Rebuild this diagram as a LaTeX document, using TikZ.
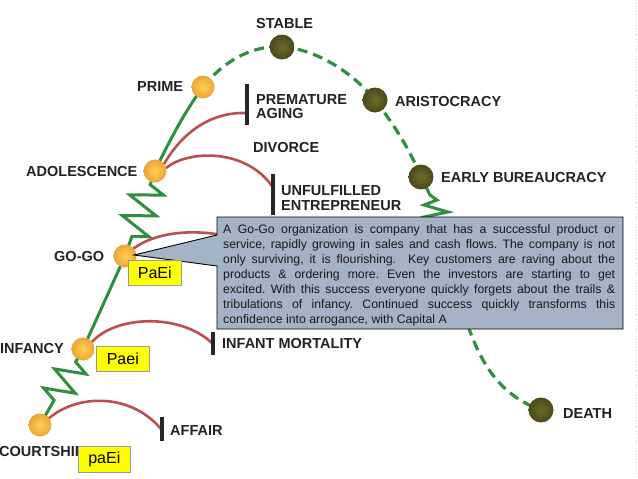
\documentclass[tikz,border=0pt]{standalone}
\usepackage{fontspec}
\setmainfont{Liberation Sans}
\usetikzlibrary{decorations.pathmorphing,calc}
\definecolor{grn}{HTML}{2F8E3F}
\definecolor{rd}{HTML}{B43C3C}
\definecolor{olvin}{HTML}{6C6A2A}
\definecolor{olvout}{HTML}{4B4A1A}
\definecolor{orin}{HTML}{FCD257}
\definecolor{orout}{HTML}{EDA435}
\definecolor{boxfill}{HTML}{A4B3C5}
\definecolor{tagyel}{HTML}{FFFF00}
\definecolor{labcol}{HTML}{222222}
\begin{document}
\begin{tikzpicture}[x=1pt,y=-1pt,
  grnline/.style={draw=grn, line width=3pt},
  grndash/.style={draw=grn, line width=3.2pt, dash pattern=on 10pt off 6pt},
  redline/.style={draw=rd, line width=2.6pt, opacity=0.9},
  endbar/.style={draw=black!85, line width=3.5pt},
  odot/.style={circle, minimum size=23pt, inner sep=0pt, inner color=orin, outer color=orout},
  ddot/.style={circle, minimum size=25pt, inner sep=0pt, inner color=olvin, outer color=olvout},
  lab/.style={font=\bfseries\fontsize{14.5}{15}\selectfont, text=labcol, inner sep=0pt, anchor=west},
  tag/.style={draw=black!40, line width=0.6pt, fill=tagyel, anchor=north west, inner sep=0pt,
              font=\fontsize{16}{17}\selectfont, text=black},
]
\useasboundingbox (0,0) rectangle (638,479);
\fill[white] (0,0) rectangle (638,479);
\draw[black!20, dotted, line width=0.8pt] (636,0) -- (636,479);

% anchor coordinates of the stages
\coordinate (cC) at (40,425);
\coordinate (cI) at (83,349);
\coordinate (cG) at (125,256);
\coordinate (cA) at (155,171);
\coordinate (cP) at (203,87);
\coordinate (cS) at (282,47);
\coordinate (cR) at (375,100);
\coordinate (cE) at (421,177);
\coordinate (cD) at (541,410);

% green life-cycle path
\draw[grnline, line join=miter] (cI) -- ($(cI)!0.17!(cC)$) decorate[decoration={zigzag, segment length=22pt, amplitude=15pt}] {-- ($(cI)!0.72!(cC)$)} -- (cC);
\draw[grnline] (cI) .. controls (97,318) and (112,285) .. (cG);
\draw[grnline, line join=miter] (cA) -- ($(cA)!0.16!(cG)$) decorate[decoration={zigzag, segment length=22pt, amplitude=16pt}] {-- ($(cA)!0.8!(cG)$)} -- (cG);
\draw[grnline] (cA) .. controls (172,135) and (188,107) .. (cP);
\draw[grndash] (cP) .. controls (228,56) and (258,45) .. (cS);
\draw[grndash] (cS) .. controls (318,49) and (355,75) .. (cR);
\draw[grndash] (cR) .. controls (395,126) and (410,150) .. (cE);
\coordinate (zz0) at (430,195);
\draw[grnline, line join=miter] (cE) -- (zz0) -- (437,200) -- (424,205) -- (448,212) -- (424,217) -- (434,224);
\coordinate (dstart) at (468,326);
\draw[grndash] (dstart) .. controls (482,365) and (500,395) .. (cD);

% red failure curves
\coordinate (bAff) at (161,429);
\coordinate (bInf) at (212,343);
\coordinate (bPre) at (246,113);
\coordinate (bUnf) at (272,186);
\draw[redline] ($(cC)+(7,-5)$) .. controls (75,394) and (130,392) .. (bAff);
\draw[redline] ($(cI)+(8,-6)$) .. controls (115,315) and (180,313) .. (bInf);
\draw[redline] ($(cG)+(8,-7)$) .. controls (160,228) and (215,226) .. (265,248);
\draw[redline] ($(cA)+(9,-7)$) .. controls (185,128) and (215,112) .. (bPre);
\draw[redline] ($(cA)+(11,-3)$) .. controls (188,150) and (245,148) .. (bUnf);

% end bars
\draw[endbar] (162,417) -- (162,441);
\draw[endbar] (213,332) -- (213,355);
\draw[endbar] (247,84) -- (247,125);
\draw[endbar] (273,174) -- (273,215);

% dots
\node[odot] (court) at (cC) {};
\node[odot] (inf) at (cI) {};
\node[odot] (gogo) at (cG) {};
\node[odot] (adol) at (cA) {};
\node[odot] (prime) at (cP) {};
\node[ddot] (stable) at (cS) {};
\node[ddot] (arist) at (cR) {};
\node[ddot] (ebur) at (cE) {};
\node[ddot] (death) at (cD) {};

% labels
\node[lab] (lStable) at (256,24) {STABLE};
\node[lab] (lPrime) at (137,87) {PRIME};
\node[lab] (lAdol) at (26,172) {ADOLESCENCE};
\node[lab] (lGogo) at (54,257) {GO-GO};
\node[lab] (lInf) at (0,349) {INFANCY};
\node[lab] (lCourt) at (-1,452) {COURTSHIP};
\node[lab] (lAff) at (170,431) {AFFAIR};
\node[lab] (lMort) at (222,344) {INFANT MORTALITY};
\node[lab] (lPre1) at (256,100) {PREMATURE};
\node[lab] (lPre2) at (256,114) {AGING};
\node[lab] (lDiv) at (253,148) {DIVORCE};
\node[lab] (lUnf1) at (281,191) {UNFULFILLED};
\node[lab] (lUnf2) at (281,206) {ENTREPRENEUR};
\node[lab] (lAri) at (395,102) {ARISTOCRACY};
\node[lab] (lEbu) at (441,178) {EARLY BUREAUCRACY};
\node[lab] (lDea) at (563,414) {DEATH};

% callout box
\coordinate (tip) at ($(gogo.center)+(9,-1)$);
\draw[fill=boxfill, draw=black, line width=0.9pt, line join=miter]
  (217,217) -- (623,217) -- (623,329) -- (217,329) -- (217,266) -- (tip) -- (217,235) -- cycle;
\node[anchor=north west, inner sep=0pt, align=left, font=\frenchspacing\fontsize{12.3}{15}\selectfont, text=black!90] (desc) at (223,224) {%
\makebox[392pt][s]{A Go-Go organization is company that has a successful product or}\\
\makebox[392pt][s]{service, rapidly growing in sales and cash flows. The company is not}\\
\makebox[392pt][s]{only surviving, it is flourishing.\ \ Key customers are raving about the}\\
\makebox[392pt][s]{products \& ordering more. Even the investors are starting to get}\\
\makebox[392pt][s]{excited. With this success everyone quickly forgets about the trails \&}\\
\makebox[392pt][s]{tribulations of infancy. Continued success quickly transforms this}\\
confidence into arrogance, with Capital A};

% style tags
\node[tag, minimum width=53pt, minimum height=25pt] (tGogo) at (128,260) {PaEi};
\node[tag, minimum width=53pt, minimum height=25pt] (tInf) at (96,346) {Paei};
\node[tag, minimum width=52pt, minimum height=26pt] (tCourt) at (78,446) {paEi};
\end{tikzpicture}
\end{document}
